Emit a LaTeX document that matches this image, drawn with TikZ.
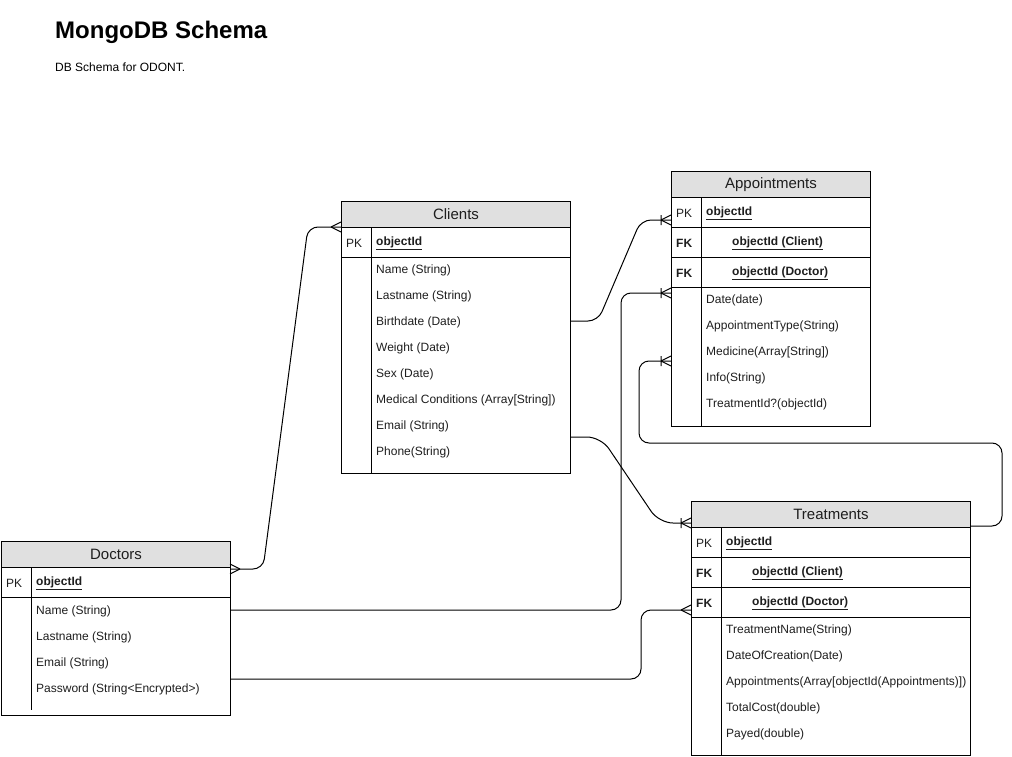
\documentclass[tikz,border=0pt]{standalone}
\usepackage{fontspec}
\setmainfont{Liberation Sans}
\definecolor{hdrgray}{RGB}{224,224,224}
\definecolor{txt}{RGB}{30,30,30}
\begin{document}
\begin{tikzpicture}[x=1pt,y=-1pt,
  tblbox/.style={draw, line width=1pt, anchor=north west, inner sep=0pt},
  hdrbox/.style={draw, fill=hdrgray, line width=1pt, anchor=north west, inner sep=0pt,
    text=txt, font=\fontsize{15}{18}\selectfont},
  fld/.style={anchor=west, inner sep=0pt, yshift=-1.5pt, text=txt, font=\fontsize{12}{14}\selectfont},
  keyfld/.style={fld, font=\fontsize{12}{14}\selectfont\bfseries},
  sep/.style={line width=1pt},
  conn/.style={line width=1pt, rounded corners=10pt},
  crowmany/.pic={\draw[line width=1pt] (-10,0) -- (0,-5) (-10,0) -- (0,5);},
  crowone/.pic={\draw[line width=1pt] (-10,0) -- (0,-5) (-10,0) -- (0,5) (-10,-5) -- (-10,5);},
  crowmanyR/.pic={\draw[line width=1pt] (10,0) -- (0,-5) (10,0) -- (0,5);}
]
\useasboundingbox[fill=white] (0,0) rectangle (1012,757);

% Title
\node[anchor=base west, inner sep=0pt, font=\fontsize{24}{28}\selectfont\bfseries] (title) at (55,38.5) {MongoDB Schema};
\node[anchor=base west, inner sep=0pt, font=\fontsize{12}{14}\selectfont] (subtitle) at (55,72) {DB Schema for ODONT.};

% ---------------- Clients
\node[tblbox, minimum width=229pt, minimum height=272pt] (clients) at (341,201) {};
\node[hdrbox, minimum width=229pt, minimum height=26pt] (clientsH) at (341,201) {Clients};
\draw[sep] (341,257) -- (570,257);
\draw[sep] (371,227) -- (371,473);
\node[fld] (cpk) at (346,242) {PK};
\node[keyfld] (cid) at (376,242) {\underline{objectId}};
\node[fld] (c1) at (376,269) {Name (String)};
\node[fld] (c2) at (376,295) {Lastname (String)};
\node[fld] (c3) at (376,321) {Birthdate (Date)};
\node[fld] (c4) at (376,347) {Weight (Date)};
\node[fld] (c5) at (376,373) {Sex (Date)};
\node[fld] (c6) at (376,399) {Medical Conditions (Array[String])};
\node[fld] (c7) at (376,425) {Email (String)};
\node[fld] (c8) at (376,451) {Phone(String)};

% ---------------- Appointments
\node[tblbox, minimum width=199pt, minimum height=255pt] (appts) at (671,171) {};
\node[hdrbox, minimum width=199pt, minimum height=26pt] (apptsH) at (671,171) {Appointments};
\draw[sep] (671,227) -- (870,227);
\draw[sep] (671,257) -- (870,257);
\draw[sep] (671,287) -- (870,287);
\draw[sep] (701,197) -- (701,426);
\node[fld] (apk) at (676,212) {PK};
\node[keyfld] (aid) at (706,212) {\underline{objectId}};
\node[keyfld] (afk1) at (676,242) {FK};
\node[keyfld] (afc) at (732,242) {\underline{objectId (Client)}};
\node[keyfld] (afk2) at (676,272) {FK};
\node[keyfld] (afd) at (732,272) {\underline{objectId (Doctor)}};
\node[fld] (a1) at (706,299) {Date(date)};
\node[fld] (a2) at (706,325) {AppointmentType(String)};
\node[fld] (a3) at (706,351) {Medicine(Array[String])};
\node[fld] (a4) at (706,377) {Info(String)};
\node[fld] (a5) at (706,403) {TreatmentId?(objectId)};

% ---------------- Treatments
\node[tblbox, minimum width=279pt, minimum height=254pt] (treat) at (691,501) {};
\node[hdrbox, minimum width=279pt, minimum height=26pt] (treatH) at (691,501) {Treatments};
\draw[sep] (691,557) -- (970,557);
\draw[sep] (691,587) -- (970,587);
\draw[sep] (691,617) -- (970,617);
\draw[sep] (721,527) -- (721,755);
\node[fld] (tpk) at (696,542) {PK};
\node[keyfld] (tid) at (726,542) {\underline{objectId}};
\node[keyfld] (tfk1) at (696,572) {FK};
\node[keyfld] (tfc) at (752,572) {\underline{objectId (Client)}};
\node[keyfld] (tfk2) at (696,602) {FK};
\node[keyfld] (tfd) at (752,602) {\underline{objectId (Doctor)}};
\node[fld] (t1) at (726,629) {TreatmentName(String)};
\node[fld] (t2) at (726,655) {DateOfCreation(Date)};
\node[fld] (t3) at (726,681) {Appointments(Array[objectId(Appointments)])};
\node[fld] (t4) at (726,707) {TotalCost(double)};
\node[fld] (t5) at (726,733) {Payed(double)};

% ---------------- Doctors
\node[tblbox, minimum width=229pt, minimum height=174pt] (docs) at (1,541) {};
\node[hdrbox, minimum width=229pt, minimum height=26pt] (docsH) at (1,541) {Doctors};
\draw[sep] (1,597) -- (230,597);
\draw[sep] (31,567) -- (31,710);
\node[fld] (dpk) at (6,582) {PK};
\node[keyfld] (did) at (36,582) {\underline{objectId}};
\node[fld] (d1) at (36,610) {Name (String)};
\node[fld] (d2) at (36,636) {Lastname (String)};
\node[fld] (d3) at (36,662) {Email (String)};
\node[fld] (d4) at (36,688) {Password (String<Encrypted>)};

% ---------------- connection points
\coordinate (pDocTop) at (230,569);
\coordinate (pCliIn) at (341,227);
\coordinate (pCliBirth) at (570,321);
\coordinate (pApPK) at (671,220);
\coordinate (pCliEmail) at (570,437);
\coordinate (pTrHead) at (691,523);
\coordinate (pDocName) at (230,610);
\coordinate (pApDate) at (671,293);
\coordinate (pDocPass) at (230,679);
\coordinate (pTrFKD) at (691,610);
\coordinate (pTrRight) at (970,526);
\coordinate (pApMed) at (671,361);

% ---------------- connectors
\draw[conn] (pDocTop) -- (263,569) -- (308,227) -- (pCliIn);
\pic at (pCliIn) {crowmany};
\pic at (pDocTop) {crowmanyR};

\draw[conn] (pCliBirth) -- (598,321) -- (641,220) -- (pApPK);
\pic at (pApPK) {crowone};

\draw[conn, rounded corners=14pt] (pCliEmail) -- (601,437) -- (659,523) -- (pTrHead);
\pic at (pTrHead) {crowone};

\draw[conn] (pDocName) -- (621,610) -- (621,293) -- (pApDate);
\pic at (pApDate) {crowone};

\draw[conn] (pDocPass) -- (641,679) -- (641,610) -- (pTrFKD);
\pic at (pTrFKD) {crowmany};

\draw[conn] (pTrRight) -- (1002,526) -- (1002,443) -- (639,443) -- (639,361) -- (pApMed);
\pic at (pApMed) {crowone};

\end{tikzpicture}
\end{document}
